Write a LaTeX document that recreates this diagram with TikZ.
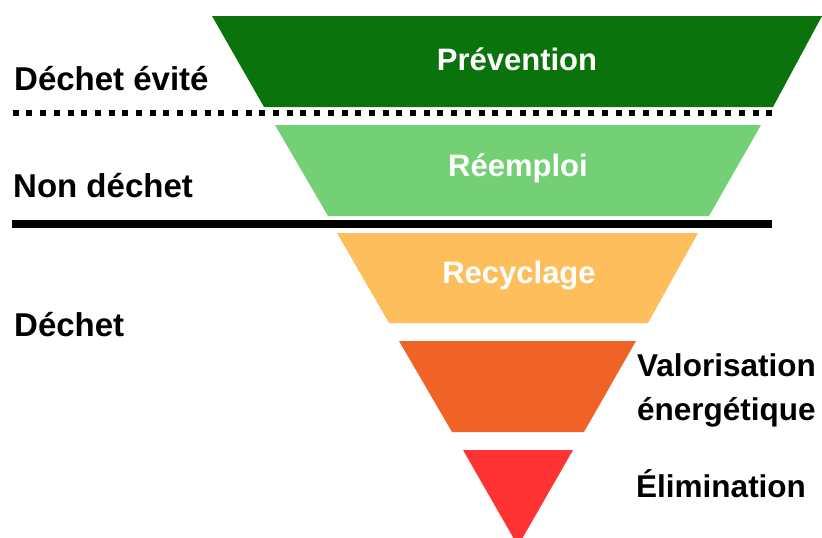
\documentclass[tikz,border=0pt]{standalone}
\usepackage{fontspec}
\setmainfont{Liberation Sans}
\definecolor{cPrev}{RGB}{11,115,11}
\definecolor{cReem}{RGB}{116,208,116}
\definecolor{cRecy}{RGB}{255,190,92}
\definecolor{cValo}{RGB}{240,99,38}
\definecolor{cElim}{RGB}{255,51,51}
\begin{document}
\begin{tikzpicture}[x=1pt,y=-1pt,
  lbl/.style={font=\bfseries\fontsize{31.5}{44}\selectfont, inner sep=0pt, text=black},
  llbl/.style={font=\bfseries\fontsize{33}{44}\selectfont, inner sep=0pt, text=black},
  wlbl/.style={font=\bfseries\fontsize{31}{37}\selectfont, inner sep=0pt, text=white, anchor=base},
  sep/.style={line width=8pt},
  dotsep/.style={line width=6pt, dash pattern=on 6pt off 7.7pt}]
\useasboundingbox (0,0) rectangle (822,538);
% layers
\fill[cPrev] (212,16) -- (822,16) -- (773,107) -- (264,107) -- cycle;
\fill[cReem] (275,125) -- (761,125) -- (709,216) -- (328,216) -- cycle;
\fill[cRecy] (337,233) -- (698,233) -- (648,323) -- (389,323) -- cycle;
\fill[cValo] (399,341) -- (636,341) -- (584,432) -- (452,432) -- cycle;
\fill[cElim] (463,450) -- (573,450) -- (518,546) -- cycle;
% separators
\coordinate (d1) at (12.7,113);
\coordinate (d2) at (772,113);
\coordinate (s1) at (12,223.5);
\coordinate (s2) at (772,223.5);
\draw[dotsep] (d1) -- (d2);
\draw[sep] (s1) -- (s2);
% layer labels
\node[wlbl] (prev) at (517,70) {Prévention};
\node[wlbl] (reem) at (518,176) {Réemploi};
\node[wlbl] (recy) at (519,283) {Recyclage};
% side labels
\node[llbl, anchor=base west] (evite) at (14,90) {Déchet évité};
\node[llbl, anchor=base west] (non) at (13,197) {Non déchet};
\node[llbl, anchor=base west] (dech) at (14,336) {Déchet};
\node[lbl, anchor=base west] (valo1) at (637,376) {Valorisation};
\node[lbl, anchor=base west] (valo2) at (637,420) {énergétique};
\node[lbl, anchor=base west] (elim) at (636,497) {Élimination};
\end{tikzpicture}
\end{document}
